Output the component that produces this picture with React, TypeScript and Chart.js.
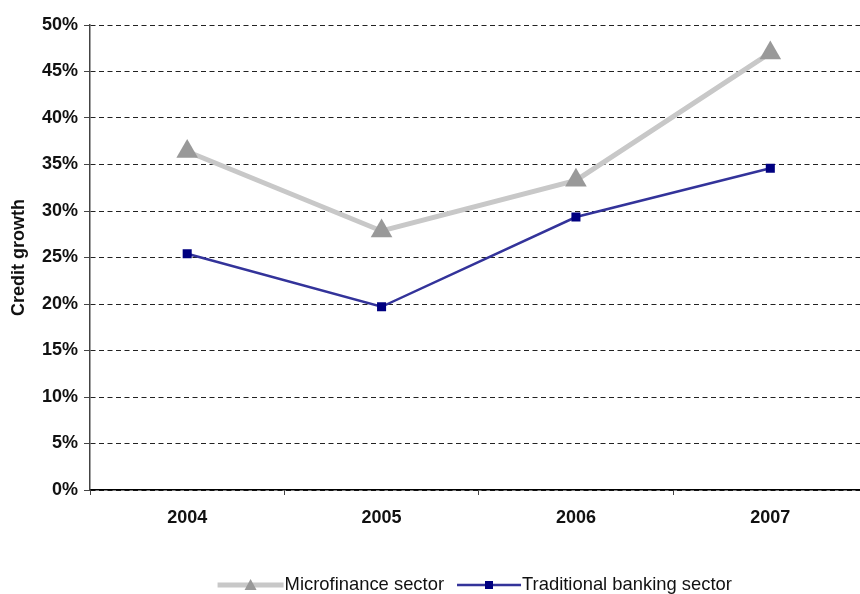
import React, { useEffect, useRef } from "react";
import { Chart, registerables } from "chart.js";

Chart.register(...registerables);

const years = ["2004", "2005", "2006", "2007"];
const microfinance = [36.4, 27.85, 33.3, 47.0];
const traditional = [25.4, 19.7, 29.35, 34.6];
const yTicksMax = 50;
const yStep = 5;

const FONT = '"Liberation Sans", Arial, Helvetica, sans-serif';

const legendPlugin = {
  id: "customLegend",
  afterDraw(chart: any) {
    const ctx = chart.ctx;
    const area = chart.chartArea;
    ctx.save();
    ctx.font = `18.4px ${FONT}`;
    const lineLens = [66, 64];
    const textGap = 1;
    const itemGap = 13;
    const dsList = chart.data.datasets;
    const widths = dsList.map((ds: any) => ctx.measureText(ds.label).width);
    let total = 0;
    widths.forEach((w: number, i: number) => {
      total += lineLens[i] + textGap + w + (i > 0 ? itemGap : 0);
    });
    let x = (area.left + area.right) / 2 - total / 2 - 4;
    const y = 585;
    dsList.forEach((ds: any, i: number) => {
      if (i > 0) x += itemGap;
      const lineLen = lineLens[i];
      ctx.strokeStyle = ds.borderColor;
      ctx.lineWidth = ds.borderWidth;
      ctx.beginPath();
      ctx.moveTo(x, y);
      ctx.lineTo(x + lineLen, y);
      ctx.stroke();
      const cx = x + lineLen / 2;
      ctx.fillStyle = ds.pointBackgroundColor;
      ctx.beginPath();
      if (ds.pointStyle === "triangle") {
        ctx.moveTo(cx, y - 6);
        ctx.lineTo(cx + 6, y + 5);
        ctx.lineTo(cx - 6, y + 5);
        ctx.closePath();
      } else {
        ctx.rect(cx - 4, y - 4, 8, 8);
      }
      ctx.fill();
      x += lineLen + textGap;
      ctx.fillStyle = "#111";
      ctx.textBaseline = "middle";
      ctx.textAlign = "left";
      ctx.fillText(ds.label, x, y);
      x += widths[i];
    });
    ctx.restore();
  },
};

export default function App() {
  const canvasRef = useRef<HTMLCanvasElement | null>(null);

  useEffect(() => {
    document.body.style.margin = "0";
    const canvas = canvasRef.current;
    if (!canvas) return;
    const chart = new Chart(canvas, {
      type: "line",
      data: {
        labels: years,
        datasets: [
          {
            label: "Microfinance sector",
            data: microfinance,
            borderColor: "#c8c8c8",
            borderWidth: 5,
            pointStyle: "triangle",
            pointRadius: 12.5,
            pointBackgroundColor: "#999999",
            pointBorderColor: "#999999",
            pointBorderWidth: 0,
            tension: 0,
          },
          {
            label: "Traditional banking sector",
            data: traditional,
            borderColor: "#33339a",
            borderWidth: 2.5,
            pointStyle: "rect",
            pointRadius: 6.4,
            pointBackgroundColor: "#000080",
            pointBorderColor: "#000080",
            pointBorderWidth: 0,
            tension: 0,
          },
        ],
      },
      options: {
        animation: false,
        responsive: false,
        maintainAspectRatio: false,
        layout: { padding: { top: 25, left: 0, right: 11, bottom: 0 } },
        plugins: {
          legend: { display: false },
          tooltip: { enabled: false },
        },
        scales: {
          x: {
            type: "category",
            offset: true,
            afterFit: (scale: any) => {
              scale.height = 104;
            },
            grid: {
              offset: true,
              drawOnChartArea: false,
              drawTicks: true,
              tickLength: 5,
              tickColor: "#444",
              color: "#444",
            },
            border: { display: true, color: "#000", width: 1.5 },
            ticks: {
              color: "#111",
              padding: 12,
              font: { family: FONT, size: 18, weight: "bold" },
              maxRotation: 0,
            },
          },
          y: {
            min: 0,
            max: yTicksMax,
            afterFit: (scale: any) => {
              scale.width = 90;
            },
            ticks: {
              stepSize: yStep,
              color: "#111",
              padding: 6,
              font: { family: FONT, size: 18, weight: "bold" },
              callback: (v: any) => `${v}%`,
            },
            grid: {
              color: "#222",
              lineWidth: 1,
              drawTicks: true,
              tickLength: 6,
              tickColor: "#444",
            },
            border: { display: true, color: "#444", width: 1.5, dash: [5, 3.5] },
            title: {
              display: true,
              text: "Credit growth",
              color: "#111",
              padding: { top: 8, bottom: 0 },
              font: { family: FONT, size: 18, weight: "bold" },
            },
          },
        },
      },
      plugins: [legendPlugin],
    });
    return () => chart.destroy();
  }, []);

  return (
    <div
      style={{
        position: "absolute",
        left: 0,
        top: 0,
        width: 860,
        height: 594,
        overflow: "hidden",
        background: "#fff",
      }}
    >
      <canvas ref={canvasRef} width={880} height={594} style={{ width: 880, height: 594, display: "block" }} />
    </div>
  );
}
